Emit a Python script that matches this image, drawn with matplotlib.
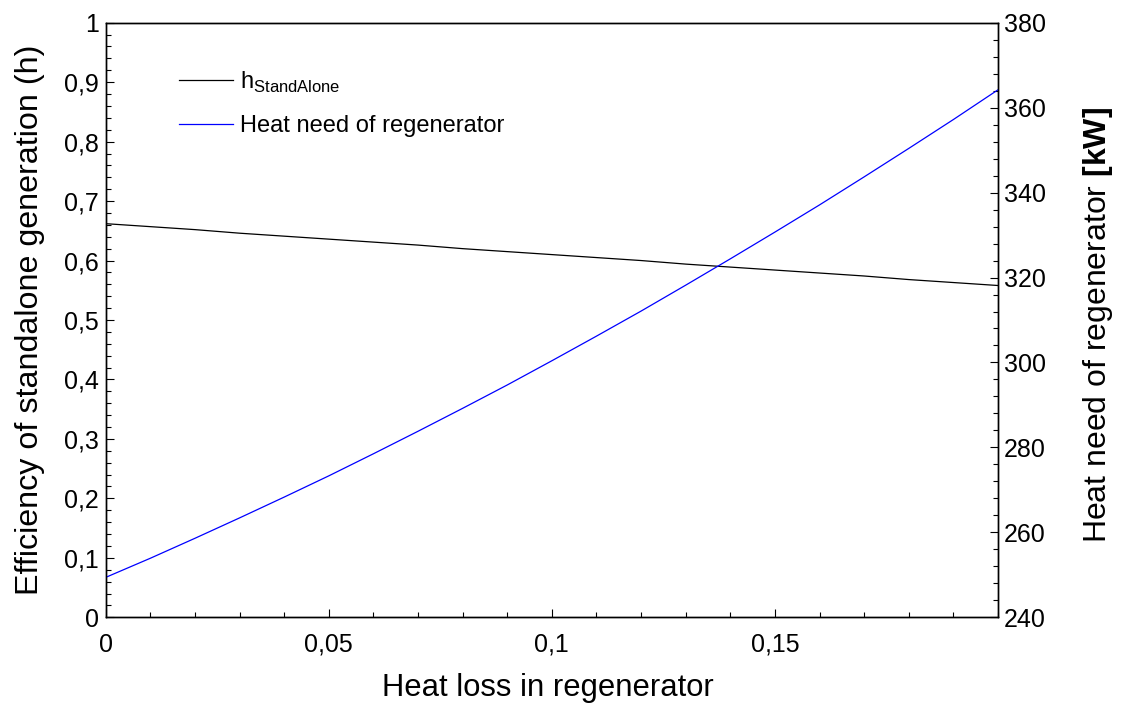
import numpy as np
import matplotlib
matplotlib.use("Agg")
import matplotlib.pyplot as plt
from matplotlib.ticker import MultipleLocator, FuncFormatter

plt.rcParams['font.family'] = ['Liberation Sans', 'DejaVu Sans']
plt.rcParams['mathtext.fontset'] = 'custom'
plt.rcParams['mathtext.rm'] = 'Liberation Sans'
plt.rcParams['mathtext.bf'] = 'Liberation Sans:bold'

# data
heat_loss = [0.00, 0.01, 0.02, 0.03, 0.04, 0.05, 0.06, 0.07, 0.08, 0.09, 0.10,
             0.11, 0.12, 0.13, 0.14, 0.15, 0.16, 0.17, 0.18, 0.19, 0.20]
eta_standalone = [0.662, 0.657, 0.652, 0.646, 0.641, 0.636, 0.631, 0.626, 0.620, 0.615, 0.610,
                  0.605, 0.600, 0.594, 0.589, 0.584, 0.579, 0.574, 0.568, 0.563, 0.558]
heat_need_kw = [249.4, 253.9, 258.6, 263.4, 268.3, 273.3, 278.5, 283.8, 289.2, 294.7, 300.4,
                306.2, 312.1, 318.2, 324.4, 330.7, 337.1, 343.7, 350.4, 357.2, 364.2]

x_ticks = [0, 0.05, 0.1, 0.15]


def comma_fmt(v, pos):
    s = f"{v:.2f}".rstrip('0').rstrip('.')
    return s.replace('.', ',')


fig = plt.figure(figsize=(11.21, 7.11), dpi=100)
ax = fig.add_axes([105.7 / 1121, 1 - 617.3 / 711, 892.3 / 1121, 594.6 / 711])
ax2 = ax.twinx()

l1, = ax.plot(heat_loss, eta_standalone, color='black', lw=0.9)
l2, = ax2.plot(heat_loss, heat_need_kw, color='#0000ff', lw=0.9)

ax.set_xlim(0, 0.2)
ax.set_ylim(0, 1)
ax2.set_ylim(240, 380)

ax.set_xticks(x_ticks)
ax.xaxis.set_minor_locator(MultipleLocator(0.01))
ax.yaxis.set_major_locator(MultipleLocator(0.1))
ax.yaxis.set_minor_locator(MultipleLocator(0.02))
ax2.yaxis.set_major_locator(MultipleLocator(20))
ax2.yaxis.set_minor_locator(MultipleLocator(4))
ax.xaxis.set_major_formatter(FuncFormatter(comma_fmt))
ax.yaxis.set_major_formatter(FuncFormatter(comma_fmt))

ax.tick_params(axis='x', which='both', direction='in', top=False, labelsize=18, pad=11)
ax.tick_params(axis='y', which='both', direction='in', right=False, labelsize=18, pad=5)
ax.tick_params(which='major', length=6, width=0.8)
ax.tick_params(which='minor', length=3.5, width=0.8)
ax2.tick_params(axis='y', which='both', direction='in', labelsize=18, pad=4)
ax2.tick_params(which='major', length=6, width=0.8)
ax2.tick_params(which='minor', length=3.5, width=0.8)

for a in (ax, ax2):
    for sp in a.spines.values():
        sp.set_linewidth(1.0)

fig.text(548 / 1121, 1 - 688 / 711, 'Heat loss in regenerator', fontsize=22.3,
         ha='center', va='center')
fig.text(30 / 1121, 1 - 320 / 711, 'Efficiency of standalone generation (h)', fontsize=23.2,
         ha='center', va='center', rotation=90)
fig.text(1098 / 1121, 1 - 325 / 711, r'Heat need of regenerator $\mathbf{[kW]}$', fontsize=23,
         ha='center', va='center', rotation=90)

ax.legend([l1, l2], [r'h$_{\mathrm{StandAlone}}$', 'Heat need of regenerator'],
          loc='upper left', bbox_to_anchor=(0.0584, 0.957), frameon=False,
          fontsize=17, handlelength=2.3, handletextpad=0.3, labelspacing=0.85)

fig.savefig('out.png', dpi=100)
